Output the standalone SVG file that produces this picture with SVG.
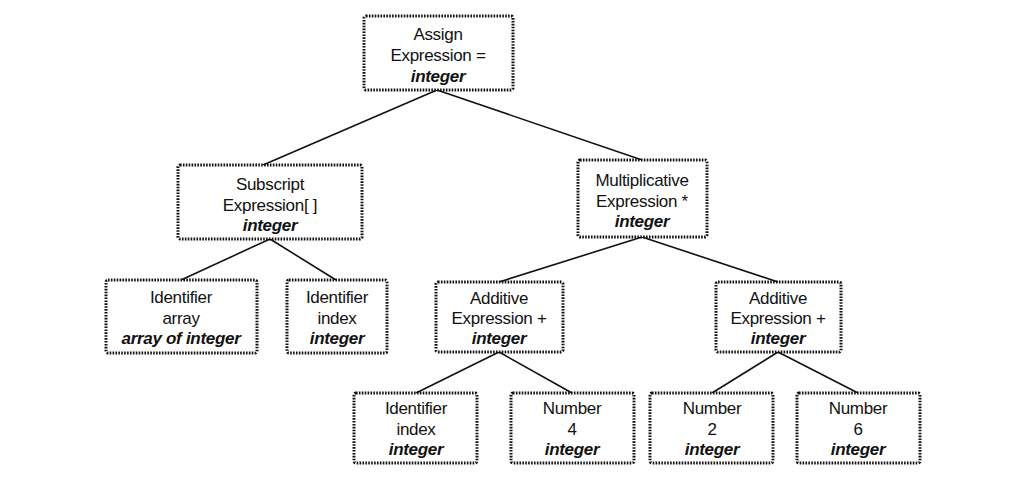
<svg xmlns="http://www.w3.org/2000/svg" width="1015" height="478" viewBox="0 0 1015 478">
<style>
.box{fill:#fff;stroke:#111;stroke-width:3;stroke-dasharray:1.6 1.3}
.t{font-family:"Liberation Sans",Arial,sans-serif;font-size:17px;letter-spacing:-0.3px;fill:#111;text-anchor:middle}
.b{font-weight:bold;font-style:italic}
.c{stroke:#111;stroke-width:1.6;fill:none}
</style>
<rect width="1015" height="478" fill="#fff"/>
<g id="connectors">
<line class="c" x1="437" y1="90" x2="263" y2="165"/>
<line class="c" x1="437" y1="90" x2="642" y2="160"/>
<line class="c" x1="270" y1="239" x2="181" y2="280"/>
<line class="c" x1="270" y1="239" x2="336" y2="280"/>
<line class="c" x1="642" y1="237" x2="499" y2="282"/>
<line class="c" x1="642" y1="237" x2="778" y2="282"/>
<line class="c" x1="499" y1="352" x2="416" y2="393"/>
<line class="c" x1="499" y1="352" x2="572" y2="393"/>
<line class="c" x1="778" y1="352" x2="712" y2="393"/>
<line class="c" x1="778" y1="352" x2="858" y2="393"/>
</g>
<g id="assign">
<rect class="box" x="364" y="16" width="149" height="74" rx="2"/>
<text class="t" x="438" y="40">Assign</text>
<text class="t" x="438" y="61">Expression =</text>
<text class="t b" x="438" y="82">integer</text>
</g>
<g id="subscript">
<rect class="box" x="178" y="165" width="184" height="74" rx="2"/>
<text class="t" x="270" y="190">Subscript</text>
<text class="t" x="270" y="211">Expression[ ]</text>
<text class="t b" x="270" y="231">integer</text>
</g>
<g id="multiplicative">
<rect class="box" x="578" y="160" width="129" height="77" rx="2"/>
<text class="t" x="642" y="186">Multiplicative</text>
<text class="t" x="642" y="207">Expression *</text>
<text class="t b" x="642" y="227">integer</text>
</g>
<g id="id-array">
<rect class="box" x="106" y="280" width="151" height="73" rx="2"/>
<text class="t" x="181" y="303">Identifier</text>
<text class="t" x="181" y="324">array</text>
<text class="t b" x="181" y="344">array of integer</text>
</g>
<g id="id-index1">
<rect class="box" x="287" y="280" width="100" height="73" rx="2"/>
<text class="t" x="337" y="303">Identifier</text>
<text class="t" x="337" y="324">index</text>
<text class="t b" x="337" y="344">integer</text>
</g>
<g id="additive1">
<rect class="box" x="436" y="282" width="127" height="70" rx="2"/>
<text class="t" x="499" y="304">Additive</text>
<text class="t" x="499" y="324">Expression +</text>
<text class="t b" x="499" y="344">integer</text>
</g>
<g id="additive2">
<rect class="box" x="716" y="282" width="125" height="70" rx="2"/>
<text class="t" x="778" y="304">Additive</text>
<text class="t" x="778" y="324">Expression +</text>
<text class="t b" x="778" y="344">integer</text>
</g>
<g id="id-index2">
<rect class="box" x="354" y="393" width="123" height="70" rx="2"/>
<text class="t" x="416" y="414">Identifier</text>
<text class="t" x="416" y="435">index</text>
<text class="t b" x="416" y="455">integer</text>
</g>
<g id="number4">
<rect class="box" x="511" y="393" width="123" height="70" rx="2"/>
<text class="t" x="572" y="414">Number</text>
<text class="t" x="572" y="435">4</text>
<text class="t b" x="572" y="455">integer</text>
</g>
<g id="number2">
<rect class="box" x="650" y="393" width="123" height="70" rx="2"/>
<text class="t" x="712" y="414">Number</text>
<text class="t" x="712" y="435">2</text>
<text class="t b" x="712" y="455">integer</text>
</g>
<g id="number6">
<rect class="box" x="797" y="393" width="123" height="70" rx="2"/>
<text class="t" x="858" y="414">Number</text>
<text class="t" x="858" y="435">6</text>
<text class="t b" x="858" y="455">integer</text>
</g>
</svg>
